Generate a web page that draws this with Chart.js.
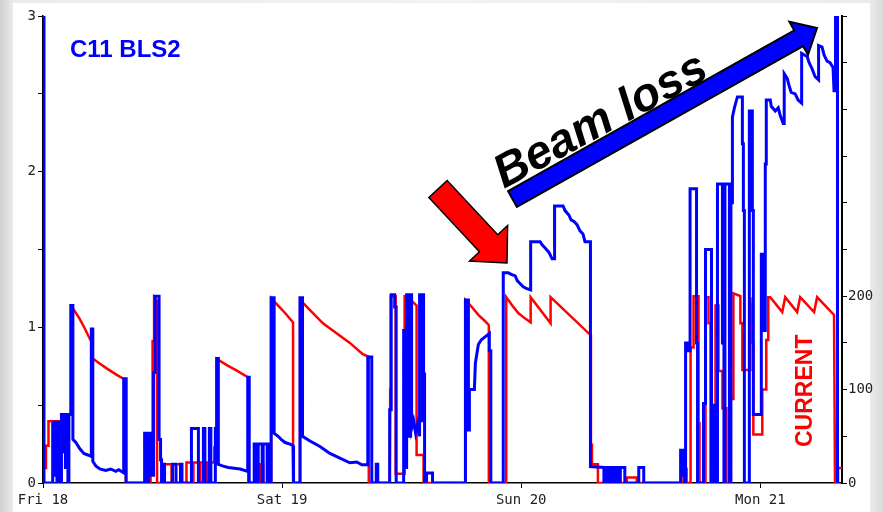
<!DOCTYPE html>
<html><head><meta charset="utf-8">
<script src="https://cdn.jsdelivr.net/npm/chart.js@4"></script>
<style>
html,body{margin:0;padding:0;}
body{width:883px;height:512px;overflow:hidden;position:relative;background:linear-gradient(to right,#d0d0d0 0px,#ebebeb 13px,#f2f2f2 50%,#ebebeb 870px,#dadada 883px);}
#panel{position:absolute;left:13px;top:3px;width:857px;height:509px;background:#fff;}
#c{position:absolute;left:0;top:0;}
</style></head><body>
<div id="panel"></div>
<canvas id="c" width="883" height="512"></canvas>
<script>
// x = hours since Fri 18 00:00
const dayTicks = [0, 24, 48, 72];
const dayLabels = ['Fri 18', 'Sat 19', 'Sun 20', 'Mon 21'];
const lossTickLabels = ['0', '1', '2', '3'];
const currentTickLabels = ['0', '100', '200'];

// C11 BLS2 beam loss (left axis) : [hour, value]
const blueLoss = [
[0,3.0],[0.1,3.0],[0.1,0],[0.92,0],
[0.92,0.39],[1.0,0.39],[1.0,0.05],[1.1,0.05],[1.1,0.39],[1.2,0.39],[1.2,0.1],[1.3,0.1],[1.3,0.39],[1.4,0.39],[1.4,0],[1.5,0],[1.5,0.39],[1.6,0.39],[1.6,0.15],[1.7,0.15],[1.7,0],[1.85,0],
[1.85,0.44],[2.0,0.44],[2.0,0.2],[2.1,0.2],[2.1,0.44],[2.25,0.44],[2.25,0.1],[2.35,0.1],[2.35,0.44],[2.5,0.44],[2.5,0],[2.6,0],[2.6,0.44],[2.8,0.44],
[2.8,1.14],[3.0,1.14],[3.0,0.28],[3.3,0.26],[3.7,0.22],[4.1,0.19],[4.5,0.18],[4.85,0.17],[4.85,0.99],[5.0,0.99],[5.0,0.14],[5.3,0.11],[5.7,0.09],[6.3,0.08],[6.8,0.09],[7.3,0.075],[7.6,0.085],[8.1,0.065],
[8.1,0.67],[8.35,0.67],[8.35,0],[10.2,0],
[10.2,0.32],[10.5,0.32],[10.5,0],[10.6,0],[10.6,0.32],[10.9,0.32],[10.9,0.05],[11.1,0.05],[11.1,0.71],[11.25,0.71],[11.25,1.2],[11.65,1.2],[11.65,0.28],[11.8,0.28],[11.8,0.15],[11.9,0.15],[11.9,0],
[12.0,0],[12.0,0.12],[12.2,0.12],[12.2,0],[13.0,0],[13.0,0.12],[13.35,0.12],[13.35,0],[13.8,0],[13.8,0.12],[13.95,0.12],[13.95,0],
[14.9,0],[14.9,0.35],[15.6,0.35],[15.6,0],[16.1,0],[16.1,0.35],[16.25,0.35],[16.25,0],[16.7,0],[16.7,0.35],[16.85,0.35],[16.85,0],[17.3,0],[17.3,0.35],[17.45,0.35],
[17.45,0.8],[17.6,0.8],[17.6,0.12],[18.0,0.11],[18.6,0.10],[19.2,0.095],[19.8,0.09],[20.5,0.075],[20.55,0.075],[20.55,0.68],[20.7,0.68],[20.7,0],
[21.2,0],[21.2,0.25],[21.5,0.25],[21.5,0],[21.6,0],[21.6,0.25],[22.0,0.25],[22.0,0],[22.1,0],[22.1,0.25],[22.5,0.25],[22.5,0],[22.6,0],[22.6,0.25],[22.85,0.25],[22.85,0],
[22.9,0],[22.9,1.19],[23.2,1.19],[23.2,0.32],[23.6,0.30],[23.9,0.28],[24.3,0.26],[24.8,0.25],[25.1,0.24],[25.15,0],[25.8,0],
[25.8,1.19],[26.05,1.19],[26.05,0.30],[26.8,0.27],[27.8,0.235],[28.8,0.19],[29.8,0.16],[30.8,0.13],[31.5,0.135],[32.0,0.117],[32.6,0.117],[32.6,0.81],[33.0,0.81],[33.0,0],
[33.45,0],[33.45,0.12],[33.6,0.12],[33.6,0],
[34.8,0],[34.8,0.47],[34.95,0.47],[34.95,1.21],[35.3,1.21],[35.3,1.13],[35.45,1.13],[35.45,0],[36.2,0],[36.2,0.98],[36.35,0.98],[36.35,0.1],[36.5,0.1],[36.5,1.21],[36.7,1.21],[36.7,0.3],[36.9,0.3],[36.9,1.21],[37.0,1.21],[37.0,0.35],[37.2,0.4],[37.4,0.32],[37.6,0.38],[37.8,0.3],[37.8,1.21],[37.9,1.21],[37.9,0.4],[38.0,0.4],[38.0,1.21],[38.2,1.21],[38.2,0.7],[38.3,0.7],[38.3,0],
[38.5,0],[38.5,0.065],[39.1,0.065],[39.1,0],
[42.4,0],[42.4,1.175],[42.7,1.175],[42.7,0.34],[42.8,0.34],[42.8,0.6],[43.3,0.6],[43.4,0.77],[43.55,0.83],[43.7,0.89],[44.0,0.92],[44.4,0.94],[44.8,0.96],[44.8,0.85],[44.95,0.85],[44.95,0],
[46.2,0],[46.2,1.35],[46.7,1.35],[47.0,1.34],[47.4,1.33],[47.6,1.3],[47.9,1.28],[48.2,1.26],[48.5,1.25],[48.95,1.24],
[48.95,1.55],[49.9,1.55],[50.1,1.53],[50.4,1.51],[50.8,1.48],[51.1,1.44],[51.35,1.44],
[51.35,1.78],[52.2,1.78],[52.4,1.75],[52.8,1.72],[53.0,1.69],[53.3,1.68],[53.6,1.66],[53.9,1.62],[54.2,1.60],[54.4,1.55],[54.95,1.55],
[54.95,0.106],[56.3,0.1],
[56.3,0],[56.45,0],[56.45,0.1],[56.6,0.1],[56.6,0],[56.75,0],[56.75,0.1],[57.0,0.1],[57.0,0],[57.1,0],[57.1,0.1],[57.4,0.1],[57.4,0],
[57.6,0],[57.6,0.1],[57.85,0.1],[57.85,0],[57.95,0],[57.95,0.1],[58.4,0.1],[58.4,0],
[59.8,0],[59.8,0.1],[60.3,0.1],[60.3,0],
[64.0,0],[64.0,0.21],[64.15,0.21],[64.15,0.05],[64.25,0.05],[64.25,0.21],[64.4,0.21],[64.4,0],[64.5,0],[64.5,0.9],[64.65,0.9],[64.65,0.85],[64.95,0.85],[64.95,1.89],[65.6,1.89],[65.6,0.9],[65.7,0.9],[65.7,0],
[66.3,0],[66.3,0.51],[66.5,0.51],[66.5,1.5],[67.1,1.5],[67.1,0],[67.3,0],[67.3,0.5],[67.4,0.5],[67.4,0],
[67.7,0],[67.7,1.92],[68.2,1.92],[68.2,0.9],[68.35,0.9],[68.35,0],[68.45,0],[68.45,1.92],[68.9,1.92],[68.9,0],
[69.05,0],[69.05,1.8],[69.2,1.8],[69.2,2.35],[69.4,2.41],[69.7,2.48],[70.2,2.48],[70.2,2.18],[70.3,2.18],[70.3,1.75],[70.4,1.75],[70.4,0],
[70.9,0],[70.9,2.39],[71.2,2.39],[71.2,1.75],[71.3,1.75],[71.3,0.44],[72.1,0.44],[72.1,1.47],[72.3,1.47],[72.3,0.98],[72.5,0.98],[72.5,2.05],[72.6,2.05],[72.6,2.46],
[73.0,2.46],[73.1,2.42],[73.5,2.39],[73.8,2.41],[74.0,2.36],[74.3,2.31],[74.4,2.31],
[74.4,2.63],[74.7,2.6],[74.9,2.55],[75.1,2.51],[75.5,2.5],[75.8,2.46],[76.15,2.44],
[76.15,2.76],[76.7,2.74],[76.9,2.7],[77.2,2.66],[77.5,2.61],[77.85,2.59],
[77.85,2.81],[78.2,2.8],[78.4,2.75],[78.7,2.71],[79.0,2.7],[79.3,2.67],[79.4,2.52],[79.55,2.52],
[79.55,3.0],[79.75,3.0],[79.75,0]
];

// Beam current (right axis) : [hour, value]
const redCurrent = [
[0,0],[0.05,0],[0.05,16],[0.3,16],[0.3,40],[0.55,40],[0.55,66],[1.65,66],[1.65,0],[1.85,0],[1.85,73],[2.8,73],
[2.8,189],[3.0,187],[3.67,176],[4.17,166],[4.67,155],[4.9,151],[4.9,134],[5.68,128],[6.35,123],[7.36,116],[8.0,112],[8.3,111],[8.3,0],
[10.8,0],[10.8,40],[11.0,40],[11.0,152],[11.15,152],[11.15,199],[11.45,195],[11.45,0],
[12.2,0],[12.2,20],[12.9,20],[12.9,0],[13.0,0],[13.0,20],[13.9,20],[13.9,0],
[14.4,0],[14.4,22],[15.0,22],[15.0,0],[15.1,0],[15.1,22],[15.7,22],[15.7,0],[15.8,0],[15.8,22],[16.4,22],[16.4,0],[16.5,0],[16.5,22],[17.2,22],[17.2,38],[17.4,38],
[17.4,133],[18.5,126],[19.5,120],[20.6,113],[20.6,0],
[21.8,0],[21.8,20],[22.1,20],[22.1,0],
[22.9,0],[22.9,198],[23.6,190],[24.3,182],[25.1,172],[25.1,0],
[25.8,0],[25.8,196],[26.8,185],[28.1,171],[29.5,160],[30.8,150],[32.1,138],[32.7,135],[32.7,0],
[34.8,0],[34.85,100],[34.9,200],[35.4,200],[35.4,10],[36.3,10],[36.3,200],[36.6,200],[36.6,60],[37.0,60],[37.0,195],[37.5,190],[37.5,30],[38.2,30],[38.2,0],
[42.4,0],[42.4,196],[43.0,189],[43.7,180],[44.3,174],[44.75,169],[44.75,0],
[46.5,0],[46.5,199],[47.1,190],[47.7,182],[48.4,176],[48.95,172],
[48.95,199],[50.95,171],[50.95,199],[55.0,158],[55.0,41],[55.1,41],[55.1,20],[55.7,20],[55.7,0],
[58.6,0],[58.6,6],[59.6,6],[59.6,0],
[64.1,0],[64.1,15],[64.6,15],[64.6,0],[65.0,0],[65.0,145],[65.3,145],[65.3,200],[65.8,200],[65.8,64],[65.9,64],[65.9,0],
[66.5,0],[66.5,199],[66.8,199],[66.8,171],[67.0,171],[67.0,0],[67.5,0],[67.5,190],[67.8,190],[67.8,120],[68.2,120],[68.2,80],[68.6,80],[68.6,0],
[69.0,0],[69.0,90],[69.3,90],[69.3,203],[70.0,200],[70.0,171],[70.2,171],[70.2,121],[71.0,121],[71.0,199],[71.2,150],[71.3,150],[71.3,52],[72.2,52],[72.2,100],[72.6,100],[72.6,153],[72.8,153],[72.8,199],
[73.0,199],[74.2,183],[74.5,199],[75.7,183],[76.0,199],[77.4,183],[77.7,199],[79.4,180],[79.5,0],[79.8,0],[79.8,16],[80.2,16]
];

const toXY = arr => arr.map(p => ({x: p[0], y: p[1]}));
const tickFont = {family: '"DejaVu Sans Mono", monospace', size: 14};

function arrow(ctx, tx, ty, px, py, sh, hl, hh, fill, stroke, lw) {
  const dx = px - tx, dy = py - ty, L = Math.hypot(dx, dy);
  const ux = dx / L, uy = dy / L, nx = -uy, ny = ux;
  const bx = px - ux * hl, by = py - uy * hl;
  ctx.beginPath();
  ctx.moveTo(tx + nx * sh, ty + ny * sh);
  ctx.lineTo(bx + nx * sh, by + ny * sh);
  ctx.lineTo(bx + nx * hh, by + ny * hh);
  ctx.lineTo(px, py);
  ctx.lineTo(bx - nx * hh, by - ny * hh);
  ctx.lineTo(bx - nx * sh, by - ny * sh);
  ctx.lineTo(tx - nx * sh, ty - ny * sh);
  ctx.closePath();
  ctx.fillStyle = fill; ctx.fill();
  ctx.lineJoin = 'miter'; ctx.lineWidth = lw; ctx.strokeStyle = stroke; ctx.stroke();
}

const annot = {
  id: 'annot',
  afterDraw(chart) {
    const c = chart.ctx;
    c.save();
    c.textBaseline = 'alphabetic'; c.textAlign = 'left';
    c.fillStyle = '#0000ff';
    c.font = 'bold 24px "Liberation Sans", Arial, sans-serif';
    c.fillText('C11 BLS2', 70, 57);
    c.save();
    c.translate(812, 447); c.rotate(-Math.PI / 2);
    c.fillStyle = '#ff0000';
    c.font = 'bold 23px "Liberation Sans", Arial, sans-serif';
    c.fillText('CURRENT', 0, 0);
    c.restore();
    arrow(c, 438, 189, 507, 263, 12.5, 27, 26, '#ff0000', '#000000', 1.5);
    arrow(c, 512.5, 199, 817, 28, 9, 21, 19, '#0000ff', '#000000', 2);
    c.save();
    c.translate(504, 189); c.rotate(-28.5 * Math.PI / 180);
    c.fillStyle = '#000000';
    c.font = 'italic bold 47px "Liberation Sans", Arial, sans-serif';
    c.fillText('Beam loss', 0, 0);
    c.restore();
    c.restore();
  }
};

new Chart(document.getElementById('c'), {
  type: 'line',
  data: {
    datasets: [
      {label: 'C11 BLS2', data: toXY(blueLoss), yAxisID: 'y', borderColor: '#0000ff', borderWidth: 3, pointRadius: 0, tension: 0, fill: false},
      {label: 'CURRENT', data: toXY(redCurrent), yAxisID: 'y1', borderColor: '#ff0000', borderWidth: 2.5, pointRadius: 0, tension: 0, fill: false}
    ]
  },
  options: {
    responsive: false, animation: false, devicePixelRatio: 1,
    layout: {padding: {top: 16, left: 0, right: 0, bottom: 0}},
    plugins: {legend: {display: false}, tooltip: {enabled: false}},
    scales: {
      x: {
        type: 'linear', min: 0, max: 80.2,
        afterBuildTicks(ax) { ax.ticks = dayTicks.map(v => ({value: v})); },
        ticks: {callback: v => { const i = dayTicks.indexOf(v); return i >= 0 ? dayLabels[i] : ''; },
                font: tickFont, color: '#222', maxRotation: 0, autoSkip: false, padding: 4},
        grid: {drawOnChartArea: false, drawTicks: true, tickLength: 5, color: '#000'},
        border: {color: '#000', width: 1.5},
        afterFit(ax) { ax.height = 29; }
      },
      y: {
        position: 'left', min: 0, max: 3,
        ticks: {stepSize: 0.5, callback: v => lossTickLabels.includes(String(v)) ? String(v) : '', font: tickFont, color: '#222', padding: 2},
        grid: {drawOnChartArea: false, drawTicks: true, tickLength: 5, color: '#000'},
        border: {color: '#000', width: 1.5},
        afterFit(ax) { ax.width = 43; }
      },
      y1: {
        position: 'right', min: 0, max: 500,
        ticks: {stepSize: 50, callback: v => currentTickLabels.includes(String(v)) ? String(v) : '', font: tickFont, color: '#222', padding: 1},
        grid: {drawOnChartArea: false, drawTicks: true, tickLength: 5, color: '#000'},
        border: {color: '#000', width: 2},
        afterFit(ax) { ax.width = 41; }
      }
    }
  },
  plugins: [annot]
});
</script></body></html>
